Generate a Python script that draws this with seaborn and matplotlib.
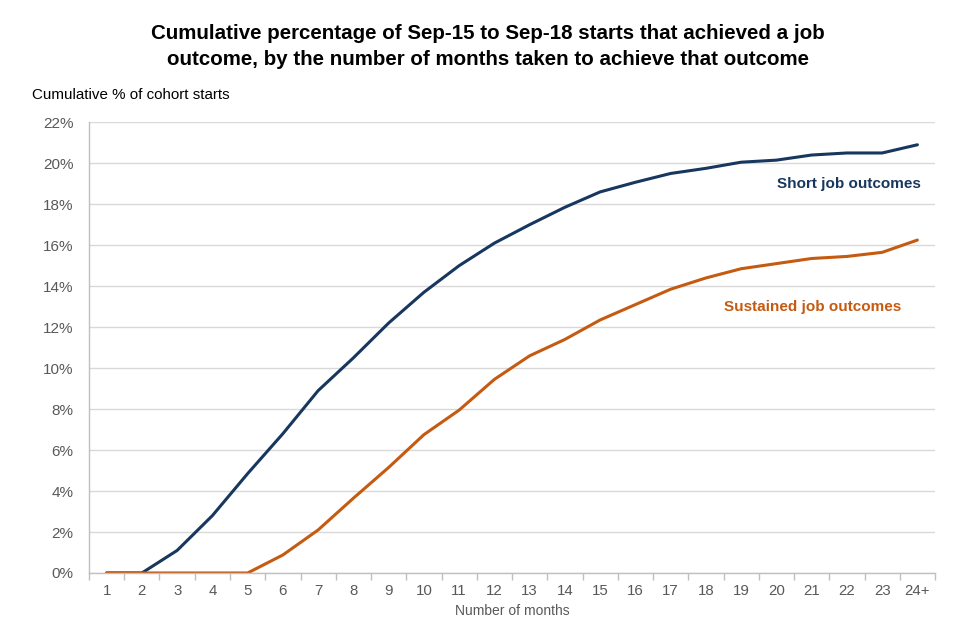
import matplotlib
matplotlib.use("Agg")
import matplotlib.pyplot as plt
import seaborn as sns
import pandas as pd
import numpy as np

months = [str(i) for i in range(1, 24)] + ["24+"]
short_jobs = [0, 0, 1.1, 2.8, 4.85, 6.8, 8.9, 10.5, 12.2, 13.7, 15.0, 16.1, 17.0, 17.85,
              18.6, 19.07, 19.5, 19.75, 20.05, 20.15, 20.4, 20.5, 20.5, 20.9]
sustained_jobs = [0, 0, 0, 0, 0, 0.88, 2.1, 3.65, 5.15, 6.75, 7.95, 9.45, 10.6, 11.4,
                  12.35, 13.1, 13.85, 14.4, 14.85, 15.1, 15.35, 15.45, 15.65, 16.25]
y_ticks = list(range(0, 23, 2))

sns.set_theme(style="white")
plt.rcParams['font.family'] = ['Liberation Sans', 'DejaVu Sans']

BLUE = "#17375E"
ORANGE = "#C55A11"
GREY = "#595959"

df = pd.DataFrame({
    "month": months * 2,
    "pos": list(range(len(months))) * 2,
    "value": short_jobs + sustained_jobs,
    "series": ["Short job outcomes"] * len(months) + ["Sustained job outcomes"] * len(months),
})

fig = plt.figure(figsize=(9.6, 6.4), dpi=100)
ax = fig.add_axes([0.0927, 0.1047, 0.974 - 0.0927, 0.809 - 0.1047])

sns.lineplot(data=df, x="pos", y="value", hue="series",
             palette={"Short job outcomes": BLUE, "Sustained job outcomes": ORANGE},
             linewidth=2.2, legend=False, ax=ax)

ax.set_xlim(-0.5, len(months) - 0.5)
ax.set_ylim(0, 22)
ax.set_yticks(y_ticks)
ax.set_yticklabels([f"{t}%" for t in y_ticks])
ax.set_xticks(range(len(months)))
ax.set_xticklabels(months)
ax.set_xticks(np.arange(-0.5, len(months), 1.0), minor=True)
ax.tick_params(axis="x", which="major", length=0, pad=8, labelsize=10.8, labelcolor=GREY)
ax.tick_params(axis="x", which="minor", length=5, color="#BFBFBF", width=1, bottom=True)
ax.tick_params(axis="y", which="major", length=0, pad=11, labelsize=11, labelcolor=GREY)

ax.grid(axis="y", color="#D9D9D9", linewidth=1)
ax.set_axisbelow(True)
for s in ["top", "right"]:
    ax.spines[s].set_visible(False)
for s in ["left", "bottom"]:
    ax.spines[s].set_color("#BFBFBF")
    ax.spines[s].set_linewidth(1)

ax.set_xlabel("Number of months", fontsize=10, color=GREY, labelpad=4)
ax.set_ylabel("")

fig.text(0.033, 0.851, "Cumulative % of cohort starts", fontsize=10.9, color="#000000",
         ha="left", va="center")
fig.text(0.508, 0.927, "Cumulative percentage of Sep-15 to Sep-18 starts that achieved a job\n"
         "outcome, by the number of months taken to achieve that outcome",
         fontsize=14.8, fontweight="bold", color="#000000", ha="center", va="center",
         linespacing=1.45)

ax.text(23.1, 18.98, "Short job outcomes", color=BLUE, fontsize=11, fontweight="bold",
        ha="right", va="center")
ax.text(22.55, 12.98, "Sustained job outcomes", color=ORANGE, fontsize=11, fontweight="bold",
        ha="right", va="center")

fig.savefig("out.png", dpi=100)
